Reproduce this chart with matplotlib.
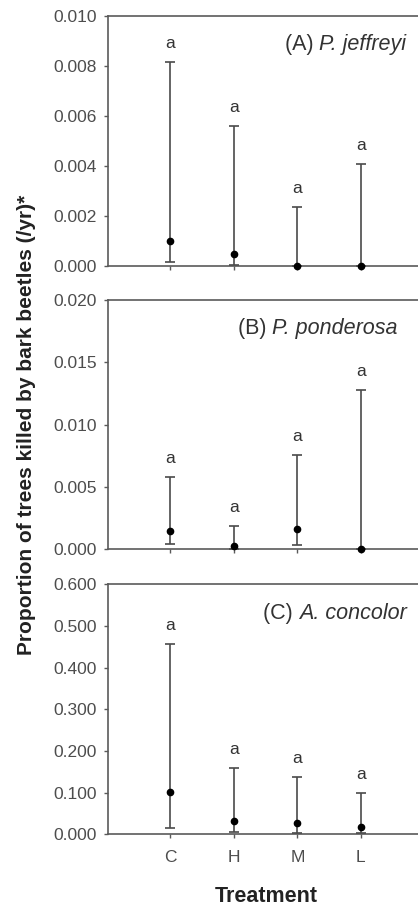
import numpy as np
import matplotlib.pyplot as plt
from matplotlib.ticker import FormatStrFormatter

# treatments on the x axis
treatments = ['C', 'H', 'M', 'L']

# (A) P. jeffreyi
jef_mean = [0.0010, 0.00047, 0.0, 0.0]
jef_low = [0.00014, 0.00002, 0.0, 0.0]
jef_high = [0.00814, 0.00559, 0.00234, 0.00408]

# (B) P. ponderosa
pon_mean = [0.00149, 0.00024, 0.0016, 0.0]
pon_low = [0.0004, 0.0, 0.00035, 0.0]
pon_high = [0.00578, 0.00187, 0.00754, 0.01276]

# (C) A. concolor
con_mean = [0.1008, 0.0327, 0.027, 0.0168]
con_low = [0.0144, 0.005, 0.003, 0.002]
con_high = [0.456, 0.158, 0.137, 0.0998]

letters = ['a', 'a', 'a', 'a']

panels = [
    ('(A) ', 'P. jeffreyi', jef_mean, jef_low, jef_high, 0.010, 0.002),
    ('(B) ', 'P. ponderosa', pon_mean, pon_low, pon_high, 0.020, 0.005),
    ('(C) ', 'A. concolor', con_mean, con_low, con_high, 0.600, 0.100),
]

plt.rcParams['font.family'] = ['Liberation Sans', 'DejaVu Sans']

fig = plt.figure(figsize=(4.18, 9.08), dpi=100)

W, H = 418.0, 908.0
left_px = 108.3
step_px = 63.43
x0, x1 = 0.02, 5.2
# top / bottom of each panel in pixels
boxes = [(16.0, 265.7), (300.0, 549.3), (584.3, 834.3)]
# right end of the panel label (data x)
label_x = [4.72, 4.58, 4.72]

grey = '#5a5a5a'
for i, (tag, name, mean, low, high, ymax, ystep) in enumerate(panels):
    top, bot = boxes[i]
    ax = fig.add_axes([left_px / W, (H - bot) / H,
                       (x1 - x0) * step_px / W, (bot - top) / H])
    x = np.arange(1, len(treatments) + 1)
    mean = np.array(mean)
    yerr = [mean - np.array(low), np.array(high) - mean]
    ax.errorbar(x, mean, yerr=yerr, fmt='o', color='black', ms=4.5,
                ecolor='#4a4a4a', elinewidth=1.2, capsize=3.5, capthick=1.2,
                clip_on=False, zorder=3)
    for xi, hi, let in zip(x, high, letters):
        ax.annotate(let, (xi, hi), xytext=(0, 8), textcoords='offset points',
                    ha='center', va='bottom', fontsize=12.5, color='#333333')
    ax.set_xlim(x0, x1)
    ax.set_ylim(0, ymax)
    ax.set_yticks(np.arange(0, ymax + ystep / 2, ystep))
    ax.yaxis.set_major_formatter(FormatStrFormatter('%.3f'))
    ax.set_xticks(x)
    if i == 2:
        ax.set_xticklabels(treatments)
    else:
        ax.set_xticklabels([])
    ax.tick_params(axis='both', direction='out', length=3, width=1,
                   color=grey, labelcolor='#4d4d4d', labelsize=12.5, pad=5)
    ax.tick_params(axis='x', pad=8)
    for s in ax.spines.values():
        s.set_color(grey)
        s.set_linewidth(1.2)

    # panel label: "(A) " upright, species name in italics
    ly = ymax * 0.885
    nm = ax.text(label_x[i], ly, name, fontsize=15.5, color='#333333',
                 style='italic', ha='right', va='center')
    fig.canvas.draw()
    nb = nm.get_window_extent()
    xl = ax.transData.inverted().transform((nb.x0, nb.y0))[0]
    ax.text(xl, ly, tag, ha='right', va='center', fontsize=15.5,
            color='#333333')

fig.text(27 / W, 1 - 425 / H, 'Proportion of trees killed by bark beetles (/yr)*',
         rotation=90, ha='center', va='center', fontsize=15,
         fontweight='bold', color='#222222')
fig.text(266.7 / W, 1 - 897 / H, 'Treatment', ha='center', va='center',
         fontsize=15.5, fontweight='bold', color='#222222')

fig.savefig('out.png', dpi=100)
